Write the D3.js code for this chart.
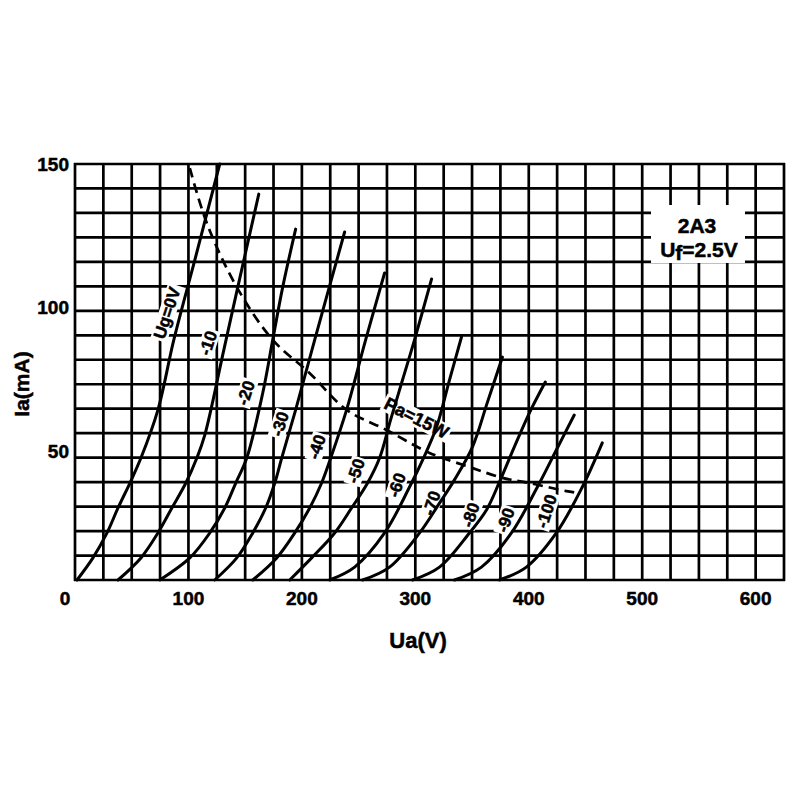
<!DOCTYPE html>
<html><head><meta charset="utf-8">
<script src="https://cdn.jsdelivr.net/npm/d3@7"></script>
<style>body{margin:0;background:#fff}</style>
</head><body>
<svg id="chart" width="800" height="800"></svg>
<script>
// ---------- data ----------
const gridVoltages = d3.range(0, 626, 25);
const gridRowCount = 17;
const xTickValues = [0, 100, 200, 300, 400, 500, 600];
const yTickValues = [50, 100, 150];

const gridBiasLabels = ["Ug=0V", "-10", "-20", "-30", "-40", "-50", "-60", "-70", "-80", "-90", "-100"];

// anode voltage Ua (V), anode current Ia (mA)
const curveUg0   = [[1.8,5],[15.8,12.7],[28.2,21.4],[37.9,30.1],[48.4,38.8],[58.1,47.5],[73.1,64.3],[87.1,88.7],[105.6,116.5],[127.6,150]];
const curveUg10  = [[37.9,5],[58.1,12.7],[73.1,21.4],[85.4,30.1],[97.7,38.8],[107.4,47.5],[114.4,55.5],[131.2,85.2],[143.5,107.1],[162.0,139.5]];
const curveUg20  = [[74.8,5],[101.2,12.7],[118.8,21.4],[132.0,30.1],[141.7,38.8],[151.4,47.5],[165.5,70.2],[174.3,88.7],[183.1,107.1],[194.5,127.3]];
const curveUg30  = [[123.2,5],[142.6,12.7],[156.7,21.4],[168.1,30.1],[176.1,38.8],[182.2,47.5],[194.5,64.3],[211.3,88.7],[237.7,126.3]];
const curveUg40  = [[156.7,5],[177.8,12.7],[193.7,21.4],[206.9,30.1],[217.4,38.8],[225.4,47.5],[239.4,64.3],[256.2,88.7],[272.9,112.0]];
const curveUg50  = [[189.3,5],[208.6,12.7],[228.9,21.4],[243.8,30.1],[257.9,38.8],[268.5,47.5],[278.2,60.8],[288.7,74.7],[299.3,88.7],[314.3,109.9]];
const curveUg60  = [[224.5,5],[246.5,9.5],[272.9,21.4],[294.9,37.4],[307.2,47.5],[318.7,58.3],[330.1,74.7],[340.7,89.7]];
const curveUg70  = [[253.5,5],[277.3,9.5],[303.7,21.4],[321.3,31.8],[334.5,39.9],[350.4,51.4],[363.6,67.0],[376.8,82.7]];
const curveUg80  = [[297.5,5],[321.3,9.5],[347.7,21.4],[362.7,29.4],[374.1,39.1],[387.3,51.4],[400.5,63.2],[414.6,74.0]];
const curveUg90  = [[334.5,5],[358.3,9.5],[384.7,21.4],[407.6,37.4],[424.3,50.3],[440.1,62.5]];
const curveUg100 = [[374.1,5],[397.9,9.5],[424.3,21.4],[447.2,37.4],[464.8,52.8]];
const curves = [curveUg0, curveUg10, curveUg20, curveUg30, curveUg40, curveUg50, curveUg60, curveUg70, curveUg80, curveUg90, curveUg100];

// where each grid-bias label sits (Ua, Ia)
const labelAnchors = [[81.0,98.1],[117.1,87.6],[150.5,70.2],[180.5,59.4],[213.0,51.4],[247.4,43.0],[283.5,38.1],[314.3,31.8],[348.6,27.7],[379.4,25.9],[415.5,29.0]];

// max dissipation Pa = 15 W
const paCurve = [[101.2,148.6],[116.2,129.4],[142.6,107.1],[174.3,88.7],[206.9,77.1],[239.4,64.3],[274.6,57.3],[312.5,49.3],[347.7,44.4],[376.8,40.6],[400.5,38.8],[433.1,36.0],[444.5,35.3]];
const paLabel = "Pa=15W";
const paLabelAnchor = [301.1, 61.5];

const tubeName = "2A3";
const heaterLabel = ["U", "f", "=2.5V"];
const xTitle = "Ua(V)";
const yTitle = "Ia(mA)";

// ---------- drawing ----------
const FONT = "'Liberation Sans', Arial, Helvetica, sans-serif";
const svg = d3.select("#chart");
svg.append("rect").attr("width", 800).attr("height", 800).attr("fill", "#fff");

const x = d3.scaleLinear().domain([0, 625]).range([75, 784]);
const y = d3.scaleLinear().domain([5, 150]).range([580, 164]);
const row = d3.scaleLinear().domain([0, gridRowCount]).range([580, 164]);

const gGrid = svg.append("g").attr("stroke", "#000").attr("stroke-width", 2.7).attr("fill", "none");
gGrid.selectAll("line.v").data(gridVoltages).join("line")
  .attr("x1", d => x(d)).attr("x2", d => x(d)).attr("y1", row(0) + 1).attr("y2", row(gridRowCount) - 1);
gGrid.selectAll("line.h").data(d3.range(gridRowCount + 1)).join("line")
  .attr("class", "h")
  .attr("x1", x(0) - 1).attr("x2", x(625) + 1).attr("y1", d => row(d)).attr("y2", d => row(d));

const gBg = svg.append("g");
const gCurves = svg.append("g");
const gText = svg.append("g").attr("font-family", FONT).attr("font-weight", "bold")
  .attr("fill", "#000").attr("stroke", "#000").attr("stroke-width", 0.5);

// title box
gBg.append("rect").attr("x", 651).attr("y", 205).attr("width", 94).attr("height", 58).attr("fill", "#fff");
gText.append("text").attr("x", 697).attr("y", 233).attr("text-anchor", "middle").attr("font-size", 21).text(tubeName);
const hl = gText.append("text").attr("x", 699).attr("y", 257).attr("text-anchor", "middle").attr("font-size", 21);
hl.append("tspan").text(heaterLabel[0]);
hl.append("tspan").attr("dy", 3).text(heaterLabel[1]);
hl.append("tspan").attr("dy", -3).text(heaterLabel[2]);

const line = d3.line().x(d => x(d[0])).y(d => y(d[1])).curve(d3.curveCatmullRom.alpha(0.5));
gCurves.selectAll("path.c").data(curves).join("path")
  .attr("d", line).attr("fill", "none").attr("stroke", "#000").attr("stroke-width", 3).attr("stroke-linecap", "round");
gCurves.append("path").datum(paCurve).attr("d", line)
  .attr("fill", "none").attr("stroke", "#000").attr("stroke-width", 2.7).attr("stroke-dasharray", "10,6");

function rotatedLabel(txt, pos, angle, size) {
  const g = gText.append("g").attr("transform", `translate(${x(pos[0])},${y(pos[1])}) rotate(${angle})`);
  const t = g.append("text").attr("text-anchor", "middle").attr("dy", "0.35em").attr("font-size", size).text(txt);
  const b = t.node().getBBox();
  gBg.append("rect").attr("transform", `translate(${x(pos[0])},${y(pos[1])}) rotate(${angle})`)
    .attr("x", b.x - 2).attr("y", b.y + 1).attr("width", b.width + 4).attr("height", b.height - 2).attr("fill", "#fff");
}
gridBiasLabels.forEach((t, i) => rotatedLabel(t, labelAnchors[i], -72, 17));
rotatedLabel(paLabel, paLabelAnchor, 27, 18);

// axes tick labels
gText.selectAll("text.xt").data(xTickValues).join("text")
  .attr("x", d => d === 0 ? x(d) - 10 : x(d)).attr("y", 605)
  .attr("text-anchor", "middle").attr("font-size", 19).text(d => d);
gText.selectAll("text.yt").data(yTickValues).join("text")
  .attr("x", 69).attr("y", d => y(d)).attr("dy", "0.35em")
  .attr("text-anchor", "end").attr("font-size", 19).text(d => d);

gText.append("text").attr("x", 418).attr("y", 648).attr("text-anchor", "middle").attr("font-size", 22).text(xTitle);
gText.append("text").attr("transform", "translate(29,384) rotate(-90)").attr("text-anchor", "middle").attr("font-size", 21).text(yTitle);
</script>
</body></html>
